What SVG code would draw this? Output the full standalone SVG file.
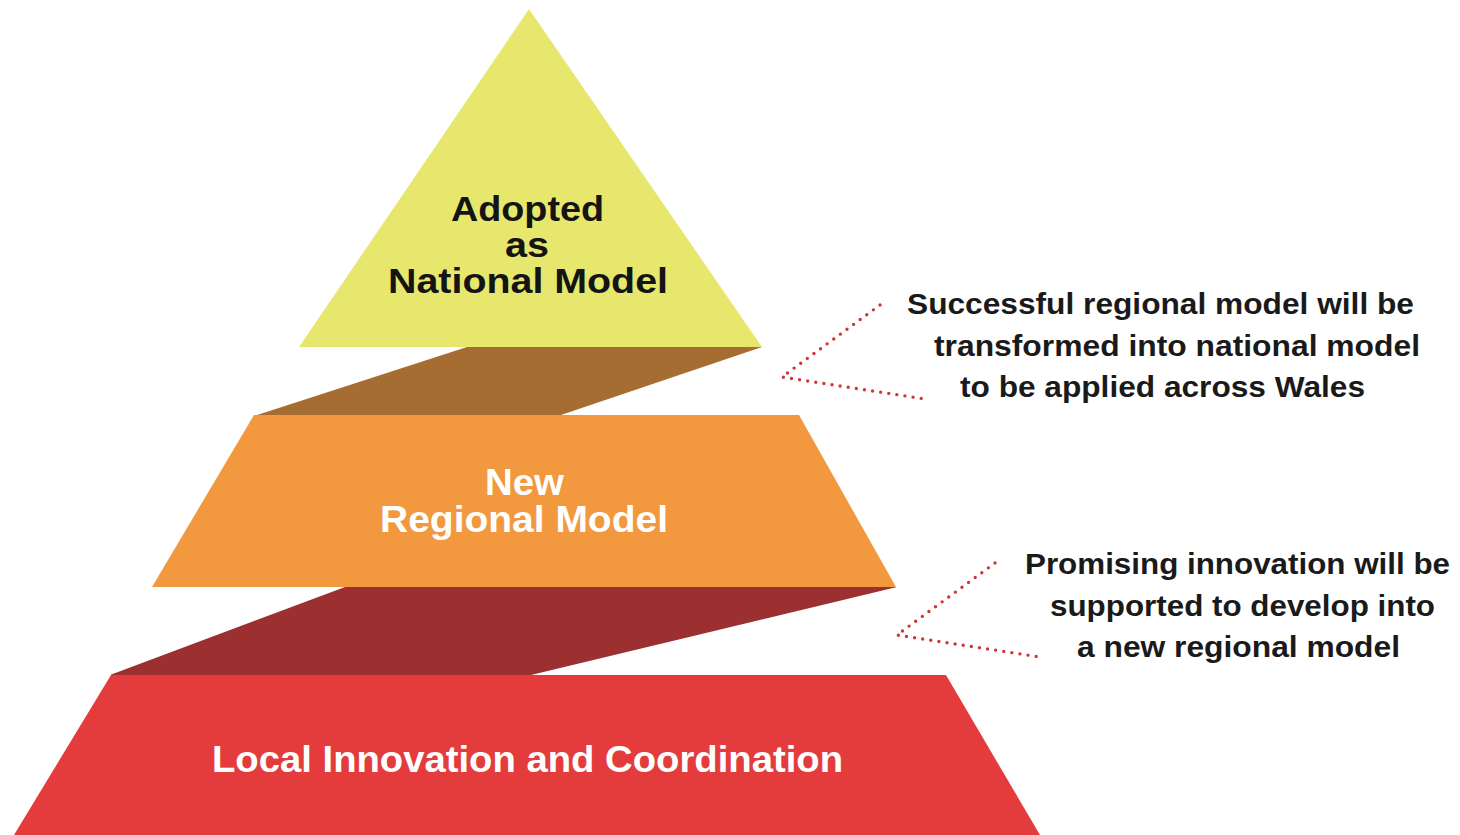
<svg xmlns="http://www.w3.org/2000/svg" width="1460" height="835" viewBox="0 0 1460 835">
<style>
.t{font-family:"Liberation Sans",Arial,sans-serif;font-weight:bold;}
.w{fill:#ffffff;font-size:36px;}
.k{fill:#141414;font-size:35px;}
.d{fill:#1a1a1a;font-size:29px;}
.dot{fill:none;stroke:#cf3535;stroke-width:3.4;stroke-linecap:round;stroke-dasharray:0 8.2;}
</style>
<rect width="1460" height="835" fill="#ffffff"/>
<g id="band-lower"><polygon points="345,587 897,587 531,675 110,675" fill="#9c3030"/></g>
<g id="band-upper"><polygon points="467,347 762,347 558,416 254,416" fill="#a66d33"/></g>
<g id="node-local">
<polygon points="111,675 946,675 1040,835 14,835" fill="#e43c3c"/>
<text class="t w" x="212" y="772" textLength="631" lengthAdjust="spacingAndGlyphs">Local Innovation and Coordination</text>
</g>
<g id="node-regional">
<polygon points="254,415 799,415 896,587 152,587" fill="#f2983f"/>
<text class="t w" x="485" y="495" textLength="79" lengthAdjust="spacingAndGlyphs">New</text>
<text class="t w" x="380" y="532" textLength="288" lengthAdjust="spacingAndGlyphs">Regional Model</text>
</g>
<g id="node-national">
<polygon points="529,9 762,347 299,347" fill="#e7e76e"/>
<text class="t k" x="451" y="221" textLength="153" lengthAdjust="spacingAndGlyphs">Adopted</text>
<text class="t k" x="505" y="257" textLength="44" lengthAdjust="spacingAndGlyphs">as</text>
<text class="t k" x="388" y="293" textLength="280" lengthAdjust="spacingAndGlyphs">National Model</text>
</g>
<g id="connectors">
<polyline class="dot" points="880,305 782,377 925,399"/>
<polyline class="dot" points="995,563 897,635 1040,657"/>
</g>
<g id="note-national">
<text class="t d" x="907" y="314" textLength="507" lengthAdjust="spacingAndGlyphs">Successful regional model will be</text>
<text class="t d" x="934" y="356" textLength="486" lengthAdjust="spacingAndGlyphs">transformed into national model</text>
<text class="t d" x="960" y="397" textLength="405" lengthAdjust="spacingAndGlyphs">to be applied across Wales</text>
</g>
<g id="note-regional">
<text class="t d" x="1025" y="574" textLength="425" lengthAdjust="spacingAndGlyphs">Promising innovation will be</text>
<text class="t d" x="1050" y="616" textLength="385" lengthAdjust="spacingAndGlyphs">supported to develop into</text>
<text class="t d" x="1077" y="657" textLength="323" lengthAdjust="spacingAndGlyphs">a new regional model</text>
</g>
</svg>
